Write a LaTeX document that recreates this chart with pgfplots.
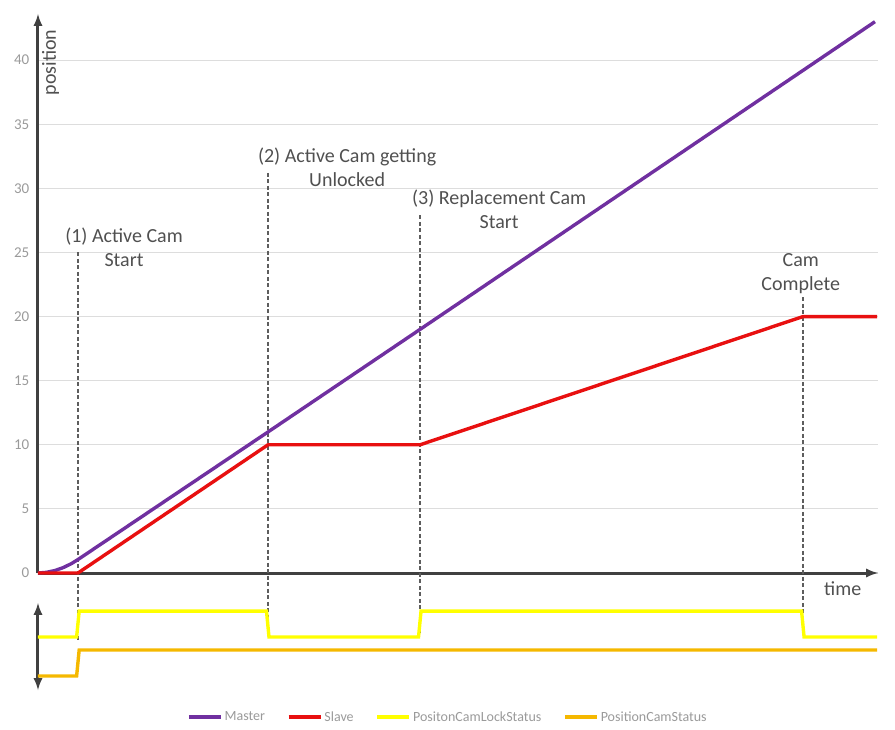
\documentclass[border=0pt]{standalone}
\usepackage{pgfplots}
\pgfplotsset{compat=1.18}
\usepackage{fontspec}
\setmainfont{Carlito}
\definecolor{cmaster}{HTML}{7030A0}
\definecolor{cslave}{HTML}{E81010}
\definecolor{clock}{HTML}{FFFF00}
\definecolor{cstat}{HTML}{F5B800}
\definecolor{caxis}{HTML}{404040}
\definecolor{ctext}{HTML}{505050}
\definecolor{ctick}{HTML}{9A9A9A}
\definecolor{cgrid}{HTML}{DDDDDD}
\begin{document}
\begin{tikzpicture}
\begin{axis}[
  at={(0,0)}, anchor=south west,
  scale only axis, width=840pt, height=559pt,
  xmin=0, xmax=100, ymin=0, ymax=43.6,
  clip=false,
  axis lines=left,
  axis line style={draw=caxis, line width=3pt},
  x axis line style={-latex},
  y axis line style={-latex},
  xtick=\empty,
  ytick={0,5,10,15,20,25,30,35,40},
  ymajorgrids,
  grid style={cgrid, line width=1.2pt},
  major tick style={draw=none},
  /pgf/number format/assume math mode=true,
  yticklabel style={font=\fontsize{15}{17}\selectfont, text=ctick, xshift=-3pt},
]
% dashed event lines
\draw[caxis!85, line width=1.5pt, dash pattern=on 4pt off 2.5pt] (axis cs:4.76,25.0) -- (axis cs:4.76,-5.2);
\draw[caxis!85, line width=1.5pt, dash pattern=on 4pt off 2.5pt] (axis cs:27.38,31.2) -- (axis cs:27.38,-4.7);
\draw[caxis!85, line width=1.5pt, dash pattern=on 4pt off 2.5pt] (axis cs:45.48,27.9) -- (axis cs:45.48,-4.7);
\draw[caxis!85, line width=1.5pt, dash pattern=on 4pt off 2.5pt] (axis cs:91.07,21.5) -- (axis cs:91.07,-4.7);
% Master
\addplot[cmaster, line width=3.4pt, line join=round] coordinates {
(0,0) (1,0.05) (2,0.19) (3,0.42) (4,0.74) (4.76,1.05) (27.38,11.0) (45.48,19.0) (91.07,39.2) (99.64,43.0)};
% Slave
\addplot[cslave, line width=3.4pt, line join=round] coordinates {
(0,0) (4.76,0) (27.38,10) (45.48,10) (91.07,20) (99.9,20)};
% labels
\node[rotate=90, anchor=north east, inner sep=0pt, font=\fontsize{20}{22}\selectfont, text=ctext] at (axis cs:0.45,42.4) {position};
\node[anchor=north, align=center, inner sep=0pt, font=\fontsize{20}{24}\selectfont, text=ctext] at (axis cs:10.24,26.9) {(1) Active Cam\\Start};
\node[anchor=north, align=center, inner sep=0pt, font=\fontsize{20}{24}\selectfont, text=ctext] at (axis cs:36.8,33.2) {(2) Active Cam getting\\Unlocked};
\node[anchor=north, align=center, inner sep=0pt, font=\fontsize{20}{24}\selectfont, text=ctext] at (axis cs:54.9,29.9) {(3) Replacement Cam\\Start};
\node[anchor=north, align=center, inner sep=0pt, font=\fontsize{20}{24}\selectfont, text=ctext] at (axis cs:90.8,24.9) {Cam\\Complete};
\node[inner sep=0pt, font=\fontsize{20}{22}\selectfont, text=ctext] at (axis cs:95.8,-1.2) {time};
\end{axis}
\begin{axis}[
  at={(0,-30pt)}, anchor=north west,
  scale only axis, width=840pt, height=87pt,
  xmin=0, xmax=100, ymin=-0.54, ymax=2.81,
  clip=false,
  axis x line=none,
  axis y line=left,
  axis line style={draw=caxis, line width=3pt},
  y axis line style={latex-latex},
  xtick=\empty, ytick=\empty,
  legend columns=4,
  legend style={draw=none, fill=none, at={(0.5,0)}, anchor=center, yshift=-27pt, xshift=-10pt,
    font=\fontsize{14}{16}\selectfont, text=ctick, inner sep=0pt,
    /tikz/every odd column/.append style={column sep=0pt},
    /tikz/every even column/.append style={column sep=20pt}},
  legend image code/.code={\draw[#1, line width=3.4pt] (0pt,0pt) -- (32pt,0pt);},
]
\addlegendimage{cmaster}
\addlegendentry{Master}
\addlegendimage{cslave}
\addlegendentry{Slave}
\addplot[clock, line width=3.4pt] coordinates {
(0,1.5) (4.6,1.5) (4.9,2.5) (27.2,2.5) (27.5,1.5) (45.3,1.5) (45.6,2.5) (90.9,2.5) (91.2,1.5) (99.9,1.5)};
\addlegendentry{PositonCamLockStatus}
\addplot[cstat, line width=3.4pt] coordinates {
(0,0) (4.6,0) (4.9,1) (99.9,1)};
\addlegendentry{PositionCamStatus}
\end{axis}
\path (-38pt,-156pt) rectangle (857pt,573pt);
\end{tikzpicture}
\end{document}
